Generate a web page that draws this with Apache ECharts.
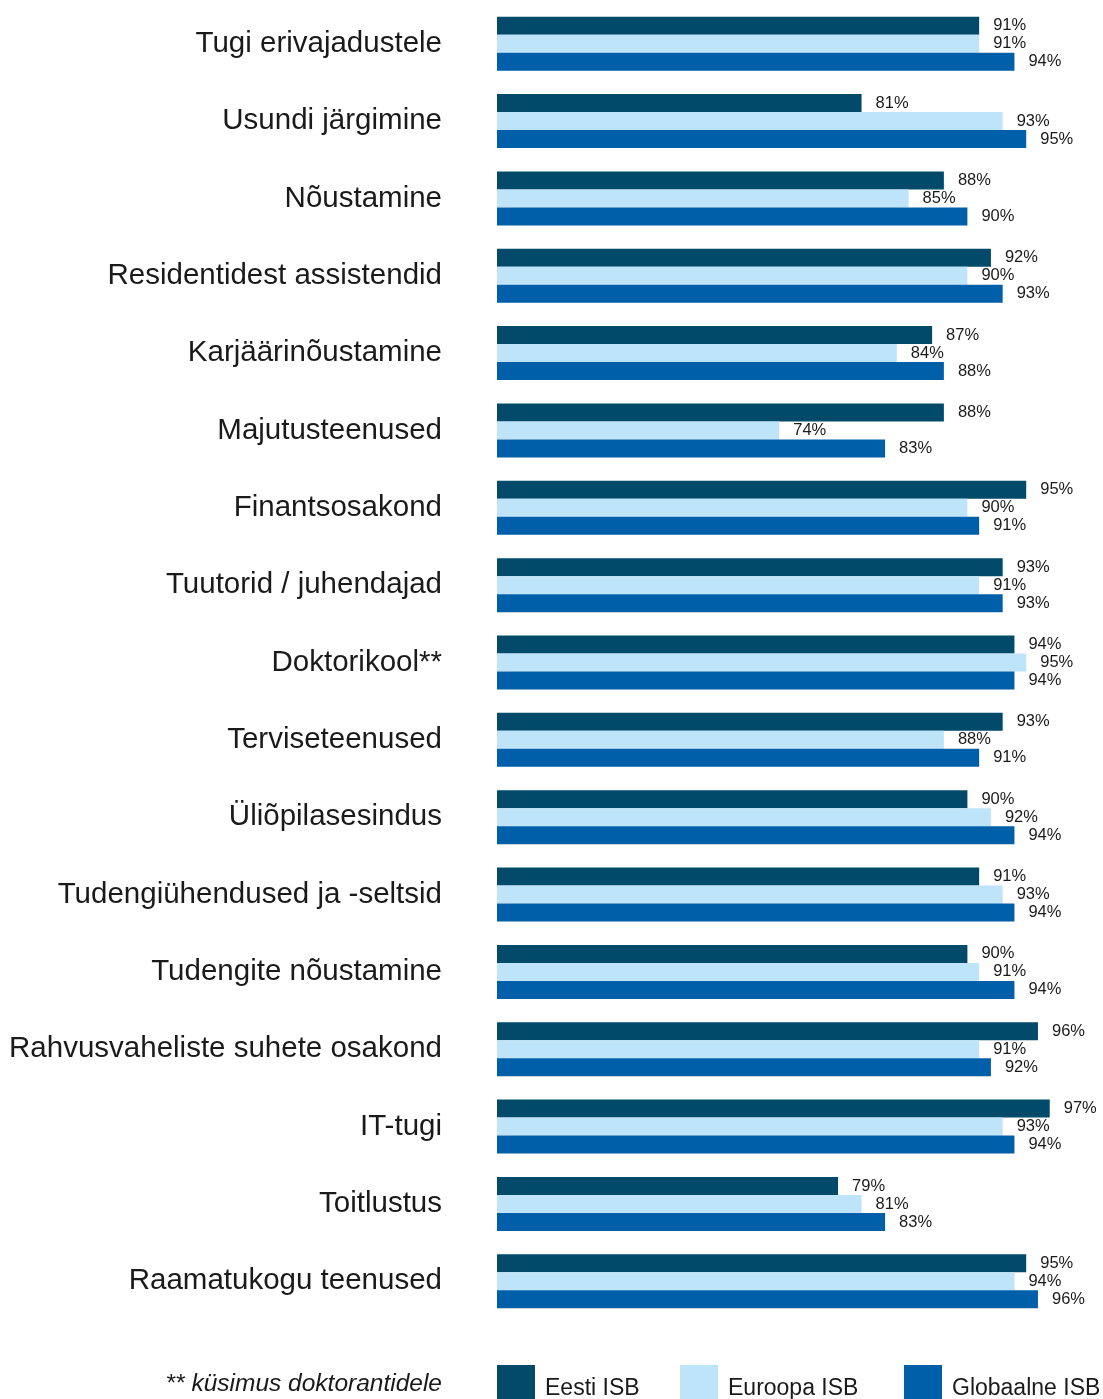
<!DOCTYPE html>
<html>
<head>
<meta charset="utf-8">
<script src="https://cdn.jsdelivr.net/npm/echarts@6/dist/echarts.min.js"></script>
<style>
  html, body { margin: 0; padding: 0; background: #fff; }
  #chart { width: 1103px; height: 1399px; }
</style>
</head>
<body>
<div id="chart"></div>
<script>
// categories, top to bottom
const categories = [
  'Tugi erivajadustele',
  'Usundi järgimine',
  'Nõustamine',
  'Residentidest assistendid',
  'Karjäärinõustamine',
  'Majutusteenused',
  'Finantsosakond',
  'Tuutorid / juhendajad',
  'Doktorikool**',
  'Terviseteenused',
  'Üliõpilasesindus',
  'Tudengiühendused ja -seltsid',
  'Tudengite nõustamine',
  'Rahvusvaheliste suhete osakond',
  'IT-tugi',
  'Toitlustus',
  'Raamatukogu teenused'
]
const seriesNames = ['Eesti ISB', 'Euroopa ISB', 'Globaalne ISB']
const eesti = [91, 81, 88, 92, 87, 88, 95, 93, 94, 93, 90, 91, 90, 96, 97, 79, 95]
const euroopa = [91, 93, 85, 90, 84, 74, 90, 91, 95, 88, 92, 93, 91, 91, 93, 81, 94]
const globaalne = [94, 95, 90, 93, 88, 83, 91, 93, 94, 91, 94, 94, 94, 92, 94, 83, 96]
const footnote = '** küsimus doktorantidele'

const colors = ['#014a6a', '#bee4f9', '#005fa9']
const textColor = '#1a1a1a'

const makeSeries = (name, data, color) => ({
  name: name,
  type: 'bar',
  data: data,
  barWidth: 18,
  barGap: '0%',
  itemStyle: { color: color },
  label: {
    show: true,
    position: 'right',
    distance: 14,
    formatter: '{c}%',
    fontFamily: 'Liberation Sans',
    fontSize: 16.5,
    color: textColor
  },
  emphasis: { disabled: true }
})

const makeLegend = (name, left) => ({
  data: [name],
  left: left,
  top: 1365,
  padding: 0,
  icon: 'rect',
  itemWidth: 38,
  itemHeight: 36,
  selectedMode: false,
  formatter: '{t|{name}}',
  textStyle: {
    fontFamily: 'Liberation Sans',
    fontSize: 23,
    color: textColor,
    rich: {
      t: {
        fontFamily: 'Liberation Sans',
        fontSize: 23,
        color: textColor,
        padding: [12, 0, 0, 5]
      }
    }
  }
})

const chart = echarts.init(document.getElementById('chart'))
chart.setOption({
  animation: false,
  backgroundColor: '#fff',
  grid: { left: 497, right: 18, top: 5, bottom: 79 },
  xAxis: {
    type: 'value',
    min: 50,
    max: 100,
    show: false
  },
  yAxis: {
    type: 'category',
    data: categories,
    inverse: true,
    axisLine: { show: false },
    axisTick: { show: false },
    splitLine: { show: false },
    axisLabel: {
      margin: 55,
      fontFamily: 'Liberation Sans',
      fontSize: 29.5,
      color: textColor
    }
  },
  legend: [
    makeLegend(seriesNames[0], 497),
    makeLegend(seriesNames[1], 680),
    makeLegend(seriesNames[2], 904)
  ],
  graphic: [{
    type: 'text',
    right: 1103 - 442,
    top: 1372,
    style: {
      text: footnote,
      font: 'italic 24.5px "Liberation Sans"',
      fill: textColor
    }
  }],
  series: [
    makeSeries(seriesNames[0], eesti, colors[0]),
    makeSeries(seriesNames[1], euroopa, colors[1]),
    makeSeries(seriesNames[2], globaalne, colors[2])
  ]
})
</script>
</body>
</html>
